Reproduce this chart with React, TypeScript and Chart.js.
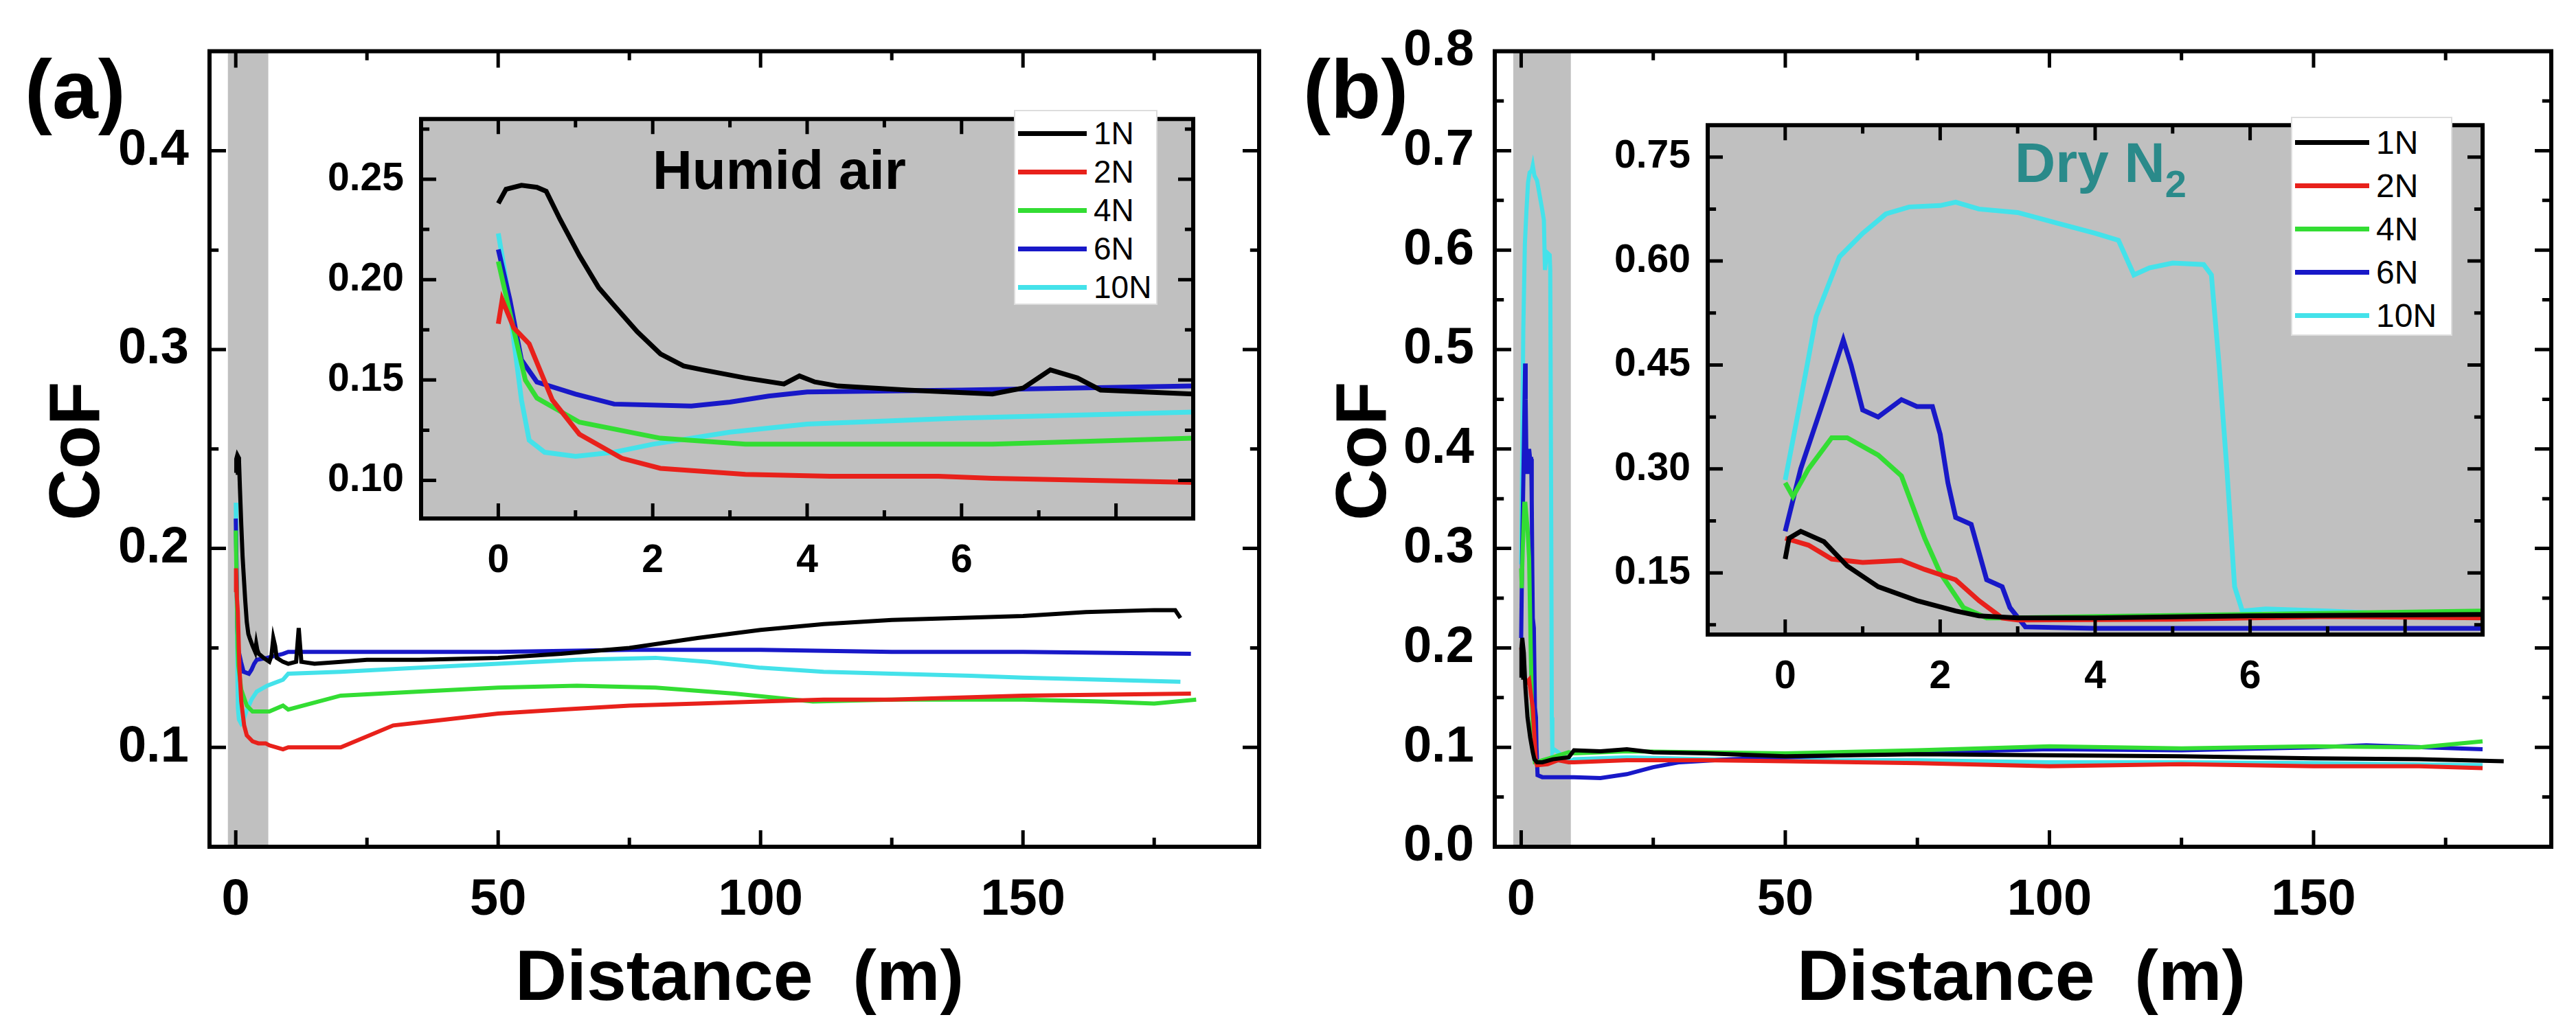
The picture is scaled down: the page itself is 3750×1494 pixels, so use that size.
import React, { useEffect, useRef } from "react";
import { Chart, registerables } from "chart.js";
Chart.register(...registerables);

type P = [number, number][];

// ---------- Panel (a): humid air, inset 0-9 m ----------
const aIn1N: P = [[0,0.238],[0.1,0.245],[0.3,0.247],[0.5,0.246],[0.62,0.244],[0.8,0.23],[1.05,0.212],[1.3,0.196],[1.48,0.188],[1.8,0.174],[2.1,0.163],[2.4,0.157],[2.65,0.155],[3.2,0.151],[3.7,0.148],[3.9,0.152],[4.1,0.149],[4.4,0.147],[5.3,0.145],[6.4,0.143],[6.8,0.146],[7.15,0.155],[7.5,0.151],[7.8,0.145],[9,0.143]];
const aIn2N: P = [[0,0.178],[0.05,0.19],[0.2,0.176],[0.4,0.168],[0.7,0.14],[1.05,0.123],[1.6,0.111],[2.1,0.106],[3.2,0.103],[4.3,0.102],[5.7,0.102],[6.4,0.101],[9,0.099]];
const aIn4N: P = [[0,0.209],[0.2,0.175],[0.35,0.15],[0.5,0.141],[1.05,0.129],[2.1,0.121],[3.2,0.118],[6.4,0.118],[9,0.121]];
const aIn6N: P = [[0,0.215],[0.15,0.19],[0.3,0.16],[0.5,0.149],[1.0,0.143],[1.5,0.138],[2.5,0.137],[3,0.139],[3.5,0.142],[4,0.144],[6,0.145],[9,0.147]];
const aIn10N: P = [[0,0.223],[0.1,0.2],[0.2,0.17],[0.3,0.14],[0.4,0.12],[0.6,0.114],[1,0.112],[1.5,0.114],[2,0.118],[3,0.124],[4,0.128],[6,0.131],[8,0.133],[9,0.134]];

const aLong1N: P = [[10,0.142],[11.5,0.143],[12,0.16],[12.5,0.143],[15,0.142],[20,0.143],[25,0.144],[35,0.144],[50,0.145],[62,0.147],[75,0.150],[88,0.155],[100,0.159],[112,0.162],[125,0.164],[137,0.165],[150,0.166],[162,0.168],[175,0.169],[179,0.169],[180,0.165]];
const aLong2N: P = [[10,0.1],[20,0.1],[30,0.111],[40,0.114],[50,0.117],[62,0.119],[75,0.121],[88,0.122],[100,0.123],[112,0.124],[125,0.124],[150,0.126],[182,0.127]];
const aLong4N: P = [[10,0.119],[20,0.126],[35,0.128],[50,0.13],[65,0.131],[80,0.13],[95,0.127],[110,0.123],[125,0.124],[150,0.124],[165,0.123],[175,0.122],[183,0.124]];
const aLong6N: P = [[10,0.148],[25,0.148],[50,0.148],[75,0.149],[100,0.149],[125,0.148],[150,0.148],[182,0.147]];
const aLong10N: P = [[10,0.137],[20,0.138],[35,0.14],[50,0.142],[65,0.144],[80,0.145],[90,0.143],[100,0.14],[112,0.138],[125,0.137],[140,0.136],[150,0.135],[165,0.134],[180,0.133]];

// ---------- Panel (b): dry N2, inset 0-9 m ----------
const bIn1N: P = [[0,0.17],[0.05,0.2],[0.2,0.21],[0.5,0.195],[0.8,0.16],[1.2,0.13],[1.7,0.11],[2.2,0.095],[2.5,0.088],[3,0.085],[4,0.085],[6,0.088],[9,0.09]];
const bIn2N: P = [[0,0.2],[0.3,0.19],[0.6,0.17],[1.0,0.165],[1.5,0.168],[1.8,0.155],[2.2,0.14],[2.5,0.11],[2.8,0.085],[3,0.082],[5,0.083],[7,0.087],[9,0.085]];
const bIn4N: P = [[0,0.28],[0.1,0.26],[0.3,0.3],[0.6,0.345],[0.8,0.345],[1.2,0.32],[1.5,0.29],[1.8,0.2],[2.0,0.15],[2.3,0.1],[2.6,0.085],[3,0.085],[4,0.087],[6,0.09],[9,0.095]];
const bIn6N: P = [[0,0.21],[0.2,0.3],[0.5,0.4],[0.75,0.486],[0.85,0.45],[1.0,0.385],[1.2,0.375],[1.5,0.4],[1.7,0.39],[1.9,0.39],[2.0,0.35],[2.1,0.28],[2.2,0.23],[2.4,0.22],[2.5,0.18],[2.6,0.14],[2.8,0.13],[2.9,0.1],[3.1,0.072],[4,0.07],[6,0.07],[9,0.07]];
const bIn10N: P = [[0,0.284],[0.2,0.4],[0.4,0.52],[0.7,0.606],[1.0,0.64],[1.3,0.668],[1.6,0.678],[2.0,0.68],[2.2,0.685],[2.5,0.675],[3,0.67],[3.5,0.655],[4,0.64],[4.3,0.63],[4.5,0.58],[4.7,0.59],[5,0.597],[5.4,0.595],[5.5,0.58],[5.6,0.45],[5.7,0.3],[5.8,0.13],[5.9,0.095],[6.2,0.098],[7,0.095],[8,0.09],[9,0.085]];

const bLong1N: P = [[10,0.097],[15,0.096],[20,0.098],[25,0.095],[35,0.094],[50,0.091],[75,0.093],[100,0.092],[125,0.091],[150,0.089],[170,0.088],[186,0.086]];
const bLong2N: P = [[10,0.085],[20,0.087],[35,0.087],[50,0.086],[75,0.084],[100,0.081],[125,0.083],[150,0.081],[170,0.081],[182,0.079]];
const bLong4N: P = [[10,0.094],[20,0.096],[35,0.095],[50,0.094],[75,0.097],[100,0.101],[125,0.099],[150,0.101],[170,0.1],[182,0.106]];
const bLong6N: P = [[10,0.07],[15,0.069],[20,0.073],[25,0.08],[30,0.085],[40,0.088],[50,0.09],[75,0.095],[100,0.098],[125,0.097],[150,0.1],[160,0.102],[182,0.098]];
const bLong10N: P = [[10,0.088],[20,0.09],[35,0.088],[50,0.087],[75,0.087],[100,0.085],[125,0.085],[150,0.084],[182,0.082]];

const loads = ["1N", "2N", "4N", "6N", "10N"];
const colors = ["#000000", "#e8211b", "#33dd33", "#1818c8", "#44e2ea"];

const mainXMajor = [0, 50, 100, 150];
const mainXMinor = [25, 75, 125, 175];
const aYMajor = [0.1, 0.2, 0.3, 0.4];
const aYMinor = [0.15, 0.25, 0.35];
const bYMajor = [0, 0.1, 0.2, 0.3, 0.4, 0.5, 0.6, 0.7, 0.8];
const bYMinor = [0.05, 0.15, 0.25, 0.35, 0.45, 0.55, 0.65, 0.75];
const inXMajor = [0, 2, 4, 6, 8];
const inXLabels = [0, 2, 4, 6];
const inXMinor = [1, 3, 5, 7];
const aInYMajor = [0.1, 0.15, 0.2, 0.25];
const aInYMinor = [0.125, 0.175, 0.225, 0.275];
const bInYMajor = [0.15, 0.3, 0.45, 0.6, 0.75];
const bInYMinor = [0.075, 0.225, 0.375, 0.525, 0.675];

const FONT = "'Liberation Sans', Arial, sans-serif";

interface Cfg {
  w: number; h: number; yw: number; xh: number; pt: number; pr: number;
  xmin: number; xmax: number; ymin: number; ymax: number;
  xMaj: number[]; xLab: number[]; xMin: number[]; yMaj: number[]; yMin: number[];
  series: P[]; lw: number; fs: number; yFmt: (v: number) => string;
  band?: [number, number]; areaBg?: string; tick: number;
}

function Plot({ cfg, style }: { cfg: Cfg; style: React.CSSProperties }) {
  const ref = useRef<HTMLCanvasElement>(null);
  useEffect(() => {
    const c = cfg;
    const frame = {
      id: "frame",
      beforeDatasetsDraw(ch: any) {
        const { ctx, chartArea: a, scales } = ch;
        ctx.save();
        if (c.areaBg) { ctx.fillStyle = c.areaBg; ctx.fillRect(a.left, a.top, a.right - a.left, a.bottom - a.top); }
        if (c.band) {
          const x0 = scales.x.getPixelForValue(c.band[0]);
          const x1 = scales.x.getPixelForValue(c.band[1]);
          ctx.fillStyle = "#c0c0c0";
          ctx.fillRect(x0, a.top, x1 - x0, a.bottom - a.top);
        }
        ctx.restore();
      },
      afterDraw(ch: any) {
        const { ctx, chartArea: a, scales } = ch;
        ctx.save();
        ctx.strokeStyle = "#000";
        ctx.lineWidth = 6;
        ctx.strokeRect(a.left, a.top, a.right - a.left, a.bottom - a.top);
        ctx.lineWidth = 5;
        const T = c.tick;
        const dx = (vals: number[], L: number) => vals.forEach((v) => {
          const p = scales.x.getPixelForValue(v);
          ctx.beginPath(); ctx.moveTo(p, a.bottom); ctx.lineTo(p, a.bottom - L);
          ctx.moveTo(p, a.top); ctx.lineTo(p, a.top + L); ctx.stroke();
        });
        const dy = (vals: number[], L: number) => vals.forEach((v) => {
          const p = scales.y.getPixelForValue(v);
          ctx.beginPath(); ctx.moveTo(a.left, p); ctx.lineTo(a.left + L, p);
          ctx.moveTo(a.right, p); ctx.lineTo(a.right - L, p); ctx.stroke();
        });
        dx(c.xMaj, T); dx(c.xMin, T * 0.55); dy(c.yMaj, T); dy(c.yMin, T * 0.55);
        ctx.restore();
      },
    };
    const chart = new Chart(ref.current!, {
      type: "line",
      data: {
        datasets: c.series.map((s, i) => ({
          label: loads[i],
          data: s.map(([x, y]) => ({ x, y })),
          borderColor: colors[i],
          borderWidth: c.lw,
          pointRadius: 0,
          tension: 0,
          fill: false,
        })),
      },
      options: {
        animation: false,
        responsive: false,
        devicePixelRatio: 1,
        layout: { padding: { top: c.pt, right: c.pr, left: 0, bottom: 0 } },
        plugins: { legend: { display: false }, tooltip: { enabled: false } },
        scales: {
          x: {
            type: "linear", min: c.xmin, max: c.xmax,
            grid: { display: false }, border: { display: false },
            afterFit: (s: any) => { s.height = c.xh; },
            afterBuildTicks: (s: any) => { s.ticks = c.xLab.map((v) => ({ value: v })); },
            ticks: { color: "#000", font: { family: FONT, size: c.fs, weight: "bold" }, padding: c.fs * 0.35, maxRotation: 0, autoSkip: false, callback: (v: any) => String(v) },
          },
          y: {
            type: "linear", min: c.ymin, max: c.ymax,
            grid: { display: false }, border: { display: false },
            afterFit: (s: any) => { s.width = c.yw; },
            afterBuildTicks: (s: any) => { s.ticks = c.yMaj.map((v) => ({ value: v })); },
            ticks: { color: "#000", font: { family: FONT, size: c.fs, weight: "bold" }, padding: c.fs * 0.3, autoSkip: false, callback: (v: any) => c.yFmt(Number(v)) },
          },
        },
      },
      plugins: [frame],
    } as any);
    return () => chart.destroy();
  }, []);
  return <canvas ref={ref} width={cfg.w} height={cfg.h} style={{ position: "absolute", display: "block", ...style }} />;
}

function Legend({ left, top, w, h, rowH, fs, lineLen }: any) {
  return (
    <div style={{ position: "absolute", left, top, width: w, height: h, background: "#fff", boxSizing: "border-box", border: "2px solid #ddd", paddingTop: 4 }}>
      {loads.map((l, i) => (
        <div key={l} style={{ height: rowH, display: "flex", alignItems: "center" }}>
          <div style={{ width: lineLen, height: 7, background: colors[i], marginLeft: 4, marginRight: 10 }} />
          <span style={{ font: `${fs}px ${FONT}`, color: "#000" }}>{l}</span>
        </div>
      ))}
    </div>
  );
}

const txt = (left: number, top: number, size: number, s: React.ReactNode, extra: React.CSSProperties = {}) => (
  <div style={{ position: "absolute", left, top, font: `bold ${size}px ${FONT}`, lineHeight: 1, whiteSpace: "nowrap", color: "#000", ...extra }}>{s}</div>
);

export default function App() {
  const merge = (a: P[], b: P[]) => a.map((s, i) => [...s, ...b[i]] as P);
  const aIn = [aIn1N, aIn2N, aIn4N, aIn6N, aIn10N];
  const bIn = [bIn1N, bIn2N, bIn4N, bIn6N, bIn10N];
  const mainA: Cfg = { w: 1860, h: 1480, yw: 297, xh: 255, pt: 58, pr: 35, xmin: -5, xmax: 195, ymin: 0.05, ymax: 0.45,
    xMaj: mainXMajor, xLab: mainXMajor, xMin: mainXMinor, yMaj: aYMajor, yMin: aYMinor,
    series: merge(aIn, [aLong1N, aLong2N, aLong4N, aLong6N, aLong10N]), lw: 6, fs: 74, yFmt: (v) => v.toFixed(1), band: [-1.5, 6.2], tick: 24 };
  const mainB: Cfg = { ...mainA, yw: 301, pt: 54, pr: 21, ymin: 0, ymax: 0.8, yMaj: bYMajor, yMin: bYMinor,
    series: merge(bIn, [bLong1N, bLong2N, bLong4N, bLong6N, bLong10N]), band: [-1.5, 9.4] };
  const inA: Cfg = { w: 1289, h: 723, yw: 150, xh: 90, pt: 10, pr: 15, xmin: -1, xmax: 9, ymin: 0.081, ymax: 0.28,
    xMaj: inXMajor, xLab: inXLabels, xMin: inXMinor, yMaj: aInYMajor, yMin: aInYMinor,
    series: aIn, lw: 7, fs: 57, yFmt: (v) => v.toFixed(2), areaBg: "#c0c0c0", tick: 22 };
  const inB: Cfg = { ...inA, w: 1293, h: 883, ymin: 0.061, ymax: 0.796, yMaj: bInYMajor, yMin: bInYMinor, series: bIn };
  return (
    <div style={{ position: "relative", width: 3734, height: 1480, background: "#fff" }}>
      <Plot cfg={mainA} style={{ left: 0, top: 0 }} />
      <Plot cfg={mainB} style={{ left: 1867, top: 0 }} />
      <div style={{ position: "absolute", left: 455, top: 114, width: 1289, height: 723, background: "#fff" }} />
      <Plot cfg={inA} style={{ left: 455, top: 114 }} />
      <div style={{ position: "absolute", left: 2328, top: 123, width: 1293, height: 883, background: "#fff" }} />
      <Plot cfg={inB} style={{ left: 2328, top: 123 }} />
      <Legend left={1468} top={152} w={209} h={284} rowH={56} fs={46} lineLen={100} />
      <Legend left={3327} top={162} w={235} h={319} rowH={63} fs={48} lineLen={108} />
      {txt(942, 200, 80, "Humid air")}
      {txt(2925, 188, 82, <span>Dry N<sub style={{ fontSize: 56, verticalAlign: -22 }}>2</sub></span>, { color: "#2a8a8a" })}
      {txt(28, 62, 120, "(a)")}
      {txt(1889, 62, 120, "(b)")}
      {txt(742, 1360, 104, "Distance\u00a0\u00a0(m)")}
      {txt(2608, 1360, 104, "Distance\u00a0\u00a0(m)")}
      <div style={{ position: "absolute", left: 106 - 8, top: 650, width: 0, height: 0 }}>
        {txt(-100, -50, 104, "CoF", { transform: "rotate(-90deg)", transformOrigin: "100px 50px", width: 200, textAlign: "center" })}
      </div>
      <div style={{ position: "absolute", left: 1875 + 104 - 8, top: 650, width: 0, height: 0 }}>
        {txt(-100, -50, 104, "CoF", { transform: "rotate(-90deg)", transformOrigin: "100px 50px", width: 200, textAlign: "center" })}
      </div>
    </div>
  );
}
